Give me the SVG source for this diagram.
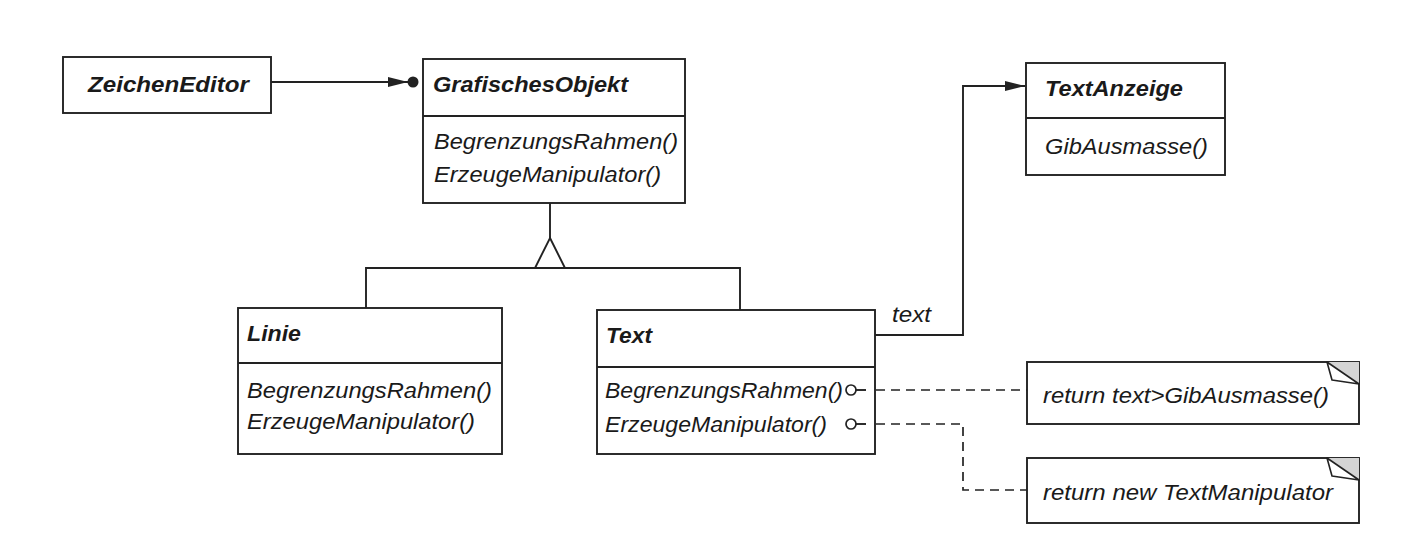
<svg xmlns="http://www.w3.org/2000/svg" width="1414" height="554" viewBox="0 0 1414 554">
<style>
.box{fill:#fff;stroke:#222;stroke-width:1.9}
.ln{fill:none;stroke:#222;stroke-width:1.9}
.dash{fill:none;stroke:#222;stroke-width:1.7;stroke-dasharray:9 6}
.t{font-family:"Liberation Sans",Arial,sans-serif;font-style:italic;font-weight:bold;font-size:22px;fill:#1a1a1a}
.m{font-family:"Liberation Sans",Arial,sans-serif;font-style:italic;font-size:22px;fill:#1a1a1a}
</style>
<defs>
<marker id="arr" viewBox="0 0 20 10" refX="20" refY="5" markerWidth="20" markerHeight="10" markerUnits="userSpaceOnUse" orient="auto">
<path d="M0,0 L20,5 L0,10 Z" fill="#222"/>
</marker>
</defs>
<rect width="1414" height="554" fill="#fff"/>
<g id="ZeichenEditor">
<rect class="box" x="63" y="57" width="208" height="56"/>
<text class="t" x="88" y="92" textLength="161" lengthAdjust="spacingAndGlyphs">ZeichenEditor</text>
</g>
<g id="GrafischesObjekt">
<rect class="box" x="423" y="59" width="262" height="144"/>
<path class="ln" d="M423,116 L685,116"/>
<text class="t" x="433" y="92" textLength="195" lengthAdjust="spacingAndGlyphs">GrafischesObjekt</text>
<text class="m" x="434" y="149" textLength="244" lengthAdjust="spacingAndGlyphs">BegrenzungsRahmen()</text>
<text class="m" x="434" y="182" textLength="227" lengthAdjust="spacingAndGlyphs">ErzeugeManipulator()</text>
</g>
<g id="TextAnzeige">
<rect class="box" x="1026" y="63" width="199" height="112"/>
<path class="ln" d="M1026,118 L1225,118"/>
<text class="t" x="1045" y="96" textLength="138" lengthAdjust="spacingAndGlyphs">TextAnzeige</text>
<text class="m" x="1045" y="154" textLength="163" lengthAdjust="spacingAndGlyphs">GibAusmasse()</text>
</g>
<g id="Linie">
<rect class="box" x="238" y="308" width="264" height="146"/>
<path class="ln" d="M238,363 L502,363"/>
<text class="t" x="247" y="341" textLength="54" lengthAdjust="spacingAndGlyphs">Linie</text>
<text class="m" x="247" y="398" textLength="245" lengthAdjust="spacingAndGlyphs">BegrenzungsRahmen()</text>
<text class="m" x="247" y="429" textLength="228" lengthAdjust="spacingAndGlyphs">ErzeugeManipulator()</text>
</g>
<g id="Text">
<rect class="box" x="597" y="310" width="278" height="144"/>
<path class="ln" d="M597,367 L875,367"/>
<text class="t" x="606" y="343" textLength="46" lengthAdjust="spacingAndGlyphs">Text</text>
<text class="m" x="605" y="398" textLength="238" lengthAdjust="spacingAndGlyphs">BegrenzungsRahmen()</text>
<text class="m" x="605" y="432" textLength="222" lengthAdjust="spacingAndGlyphs">ErzeugeManipulator()</text>
</g>
<g id="Note1">
<rect class="box" x="1027" y="362" width="332" height="62"/>
<path d="M1327,362 L1359,362 L1359,384 Z" fill="#d4d4d4"/>
<path d="M1327,362 L1332,380 L1359,384 Z" fill="#fff" stroke="#222" stroke-width="1.6" stroke-linejoin="round"/>
<text class="m" x="1043" y="403" textLength="286" lengthAdjust="spacingAndGlyphs">return text&gt;GibAusmasse()</text>
</g>
<g id="Note2">
<rect class="box" x="1027" y="458" width="332" height="65"/>
<path d="M1327,458 L1359,458 L1359,480 Z" fill="#d4d4d4"/>
<path d="M1327,458 L1332,476 L1359,480 Z" fill="#fff" stroke="#222" stroke-width="1.6" stroke-linejoin="round"/>
<text class="m" x="1043" y="500" textLength="290" lengthAdjust="spacingAndGlyphs">return new TextManipulator</text>
</g>
<g id="connectors">
<path class="ln" d="M271,82 L408,82" marker-end="url(#arr)"/>
<circle cx="413" cy="82" r="5.5" fill="#222"/>
<path class="ln" d="M550,203 L550,238"/>
<path class="ln" d="M550,238 L565,268 L535,268 Z"/>
<path class="ln" d="M366,308 L366,268 L535,268 M565,268 L740,268 L740,310"/>
<path class="ln" d="M875,335 L963,335 L963,86 L1025,86" marker-end="url(#arr)"/>
<text class="m" x="892" y="322" textLength="39" lengthAdjust="spacingAndGlyphs">text</text>
<circle cx="851" cy="390" r="5" fill="#fff" stroke="#222" stroke-width="1.7"/>
<path class="ln" d="M856,390 L866,390"/>
<path class="dash" d="M876,390 L1027,390"/>
<circle cx="851" cy="424" r="5" fill="#fff" stroke="#222" stroke-width="1.7"/>
<path class="ln" d="M856,424 L866,424"/>
<path class="dash" d="M876,424 L963,424 L963,490 L1027,490"/>
</g>
</svg>
